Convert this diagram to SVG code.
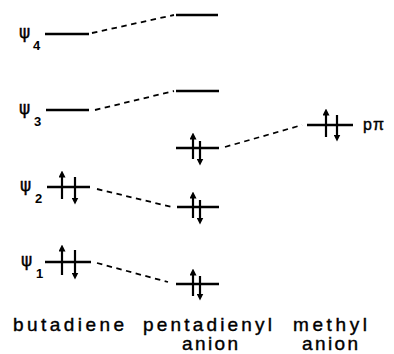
<svg xmlns="http://www.w3.org/2000/svg" width="394" height="354" viewBox="0 0 394 354">
<defs>
<marker id="ah" viewBox="0 0 8 8" refX="4" refY="4" markerWidth="7" markerHeight="7" orient="auto" markerUnits="userSpaceOnUse">
<path d="M0,0 L8,4 L0,8 Z" fill="#000"/>
</marker>
<style>
.lvl{stroke:#000;stroke-width:2.5;fill:none}
.dash{stroke:#000;stroke-width:1.8;fill:none;stroke-dasharray:5.5,4.5}
.el{stroke:#000;stroke-width:2.2;fill:none;marker-end:url(#ah)}
.t{font-family:"Liberation Sans",Arial,sans-serif;font-size:19px;fill:#000;stroke:#000;stroke-width:0.4}
.pp{font-family:"Liberation Sans",Arial,sans-serif;font-size:16px;letter-spacing:1px;fill:#000;stroke:#000;stroke-width:0.4}
.psi{font-family:"DejaVu Sans","Liberation Sans",sans-serif;font-size:17px;fill:#000;stroke:#000;stroke-width:0.4}
.sub{font-family:"Liberation Sans",Arial,sans-serif;font-size:13px;font-weight:bold;fill:#000}
</style>
</defs>
<rect width="394" height="354" fill="#fff"/>
<g id="connectors">
<path class="dash" d="M92,33 L174,15"/>
<path class="dash" d="M95,110 L174,91"/>
<path class="dash" d="M97,189 L172,207"/>
<path class="dash" d="M97,263 L168,282"/>
<path class="dash" d="M225,147 L302,125"/>
</g>
<g id="psi4"><text class="psi" x="19" y="38">ψ</text><text class="sub" x="33" y="50">4</text><path class="lvl" d="M45,34 H89"/></g>
<g id="psi3"><text class="psi" x="19" y="114">ψ</text><text class="sub" x="34" y="126">3</text><path class="lvl" d="M46,110 H89"/></g>
<g id="psi2"><text class="psi" x="20" y="191">ψ</text><text class="sub" x="35" y="203">2</text><path class="lvl" d="M47,187 H90"/><path class="el" d="M62,199 V174"/><path class="el" d="M75,177 V201"/></g>
<g id="psi1"><text class="psi" x="21" y="266">ψ</text><text class="sub" x="36" y="278">1</text><path class="lvl" d="M45,262 H91"/><path class="el" d="M62,275 V248"/><path class="el" d="M75,250 V276"/></g>
<g id="pd5"><path class="lvl" d="M176,15 H218"/></g>
<g id="pd4"><path class="lvl" d="M176,91 H219"/></g>
<g id="pd3"><path class="lvl" d="M176,148 H219"/><path class="el" d="M193,159 V136"/><path class="el" d="M200,141 V162"/></g>
<g id="pd2"><path class="lvl" d="M177,207 H219"/><path class="el" d="M193,218 V195"/><path class="el" d="M200,200 V221"/></g>
<g id="pd1"><path class="lvl" d="M176,284 H219"/><path class="el" d="M193,296 V272"/><path class="el" d="M200,276 V297"/></g>
<g id="methyl"><path class="lvl" d="M307,125 H353"/><path class="el" d="M326,137 V112"/><path class="el" d="M337,115 V138"/><text class="pp" x="363" y="130">pπ</text></g>
<g id="labels">
<text class="t" x="13" y="331" textLength="111" lengthAdjust="spacing">butadiene</text>
<text class="t" x="143" y="331" textLength="129" lengthAdjust="spacing">pentadienyl</text>
<text class="t" x="182" y="350" textLength="56" lengthAdjust="spacing">anion</text>
<text class="t" x="293" y="331" textLength="74" lengthAdjust="spacing">methyl</text>
<text class="t" x="302" y="350" textLength="56" lengthAdjust="spacing">anion</text>
</g>
</svg>
